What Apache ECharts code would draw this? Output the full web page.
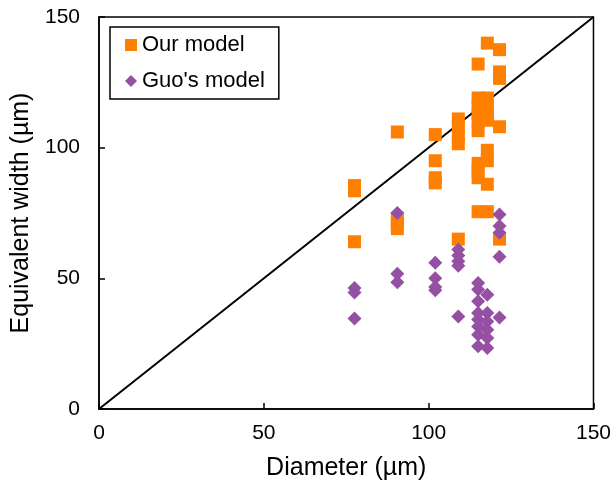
<!DOCTYPE html>
<html>
<head>
<meta charset="utf-8">
<script src="https://cdn.jsdelivr.net/npm/echarts@6/dist/echarts.min.js"></script>
<style>
  html, body { margin: 0; padding: 0; background: #fff; }
  #chart { width: 614px; height: 488px; }
</style>
</head>
<body>
<div id="chart"></div>
<script>
// Measured diameters (µm) and the equivalent widths predicted by each model
const ourDiameter = [
  77.5, 77.5, 77.5,
  90.5, 90.5, 90.5, 90.5,
  102, 102, 102, 102,
  109, 109, 109, 109, 109,
  115, 115, 115, 115, 115, 115, 115, 115, 115, 115,
  117.8, 117.8, 117.8, 117.8, 117.8, 117.8, 117.8, 117.8, 117.8,
  121.5, 121.5, 121.5, 121.5, 121.5
];
const ourWidth = [
  85.5, 83.5, 64,
  106, 73, 71, 69,
  105, 95, 88.5, 86.5,
  111, 108, 104, 101.5, 65,
  132, 119, 116, 113, 110, 106.5, 94, 91, 88.5, 75.5,
  140, 119, 116, 113, 110.5, 99, 95, 86, 75.5,
  137.5, 129, 126.5, 108, 65
];

const guoDiameter = [
  77.5, 77.5, 77.5,
  90.5, 90.5, 90.5,
  102, 102, 102, 102,
  109, 109, 109, 109, 109,
  115, 115, 115, 115, 115, 115, 115, 115,
  117.8, 117.8, 117.8, 117.8, 117.8, 117.8,
  121.5, 121.5, 121.5, 121.5, 121.5
];
const guoWidth = [
  46.3, 44.6, 34.6,
  75, 51.8, 48.5,
  56, 50, 46.7, 45.4,
  61, 58.7, 56.5, 54.8, 35.4,
  48.2, 45.7, 41.2, 36.7, 34.2, 31.6, 28.4, 24,
  43.7, 36.7, 33.5, 30.3, 27.2, 23.3,
  74.4, 70, 67.4, 58.3, 35
];

// 1:1 reference line
const parityLine = [0, 150];
const axisTicks = [0, 50, 100, 150];

const FONT = '"Liberation Sans", Arial, sans-serif';
const pairs = (xs, ys) => xs.map((x, i) => [x, ys[i]]);

const axisCommon = {
  type: 'value',
  min: axisTicks[0],
  max: axisTicks[axisTicks.length - 1],
  interval: axisTicks[1] - axisTicks[0],
  nameLocation: 'middle',
  nameTextStyle: { fontFamily: FONT, fontSize: 25, color: '#000' },
  axisLine: { show: true, lineStyle: { color: '#000', width: 1.5 } },
  axisTick: { show: true, inside: true, length: 6, lineStyle: { color: '#000', width: 1.5 } },
  axisLabel: { fontFamily: FONT, fontSize: 21, color: '#000' },
  splitLine: { show: false }
};

const chart = echarts.init(document.getElementById('chart'), null, { renderer: 'canvas' });
chart.setOption({
  animation: false,
  backgroundColor: '#fff',
  grid: {
    left: 99, right: 18, top: 17, bottom: 79,
    show: true, borderColor: '#000', borderWidth: 1.5, backgroundColor: 'transparent'
  },
  xAxis: Object.assign({}, axisCommon, {
    name: 'Diameter (µm)',
    nameGap: 47,
    axisLabel: Object.assign({}, axisCommon.axisLabel, { margin: 14 })
  }),
  yAxis: Object.assign({}, axisCommon, {
    name: 'Equivalent width (µm)',
    nameGap: 64,
    axisLabel: Object.assign({}, axisCommon.axisLabel, { margin: 19 })
  }),
  legend: {
    orient: 'vertical',
    left: 110,
    top: 27,
    padding: [7, 14, 7, 15],
    itemGap: 14,
    itemWidth: 12,
    itemHeight: 12,
    borderColor: '#000',
    borderWidth: 1.5,
    borderRadius: 0,
    backgroundColor: '#fff',
    textStyle: { fontFamily: FONT, fontSize: 22, color: '#000' },
    data: [
      { name: 'Our model', icon: 'rect' },
      { name: "Guo's model", icon: 'diamond' }
    ]
  },
  series: [
    {
      name: 'y = x',
      type: 'line',
      data: pairs(parityLine, parityLine),
      showSymbol: false,
      silent: true,
      z: 1,
      lineStyle: { color: '#000', width: 2 }
    },
    {
      name: 'Our model',
      type: 'scatter',
      symbol: 'rect',
      symbolSize: 13,
      z: 3,
      itemStyle: { color: '#FF8000', opacity: 1 },
      data: pairs(ourDiameter, ourWidth)
    },
    {
      name: "Guo's model",
      type: 'scatter',
      symbol: 'diamond',
      symbolSize: 14,
      z: 4,
      itemStyle: { color: '#9550A3', opacity: 1 },
      data: pairs(guoDiameter, guoWidth)
    }
  ]
});
</script>
</body>
</html>
